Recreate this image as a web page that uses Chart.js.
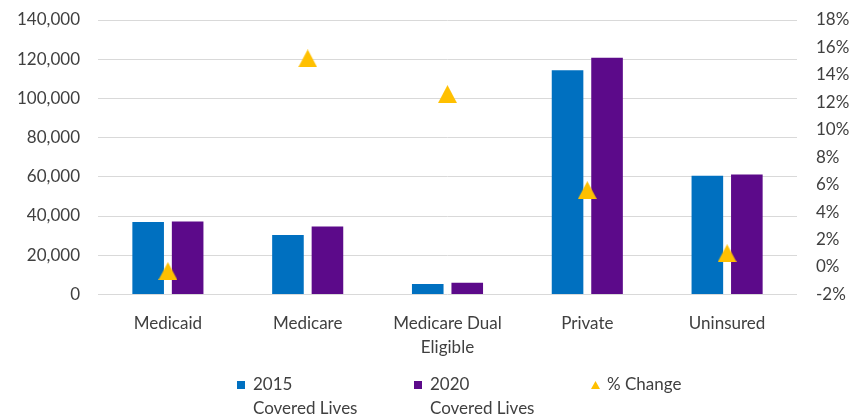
<!DOCTYPE html>
<html>
<head>
<meta charset="utf-8">
<script src="https://cdn.jsdelivr.net/npm/chart.js@4.4.1/dist/chart.umd.min.js"></script>
<style>
  body { margin: 0; background: #fff; font-family: Lato, "Open Sans", sans-serif; }
  #wrap { position: relative; width: 853px; height: 417px; }
  #legend { position: absolute; left: 0; top: 372px; width: 853px; font-size: 17px; color: #404040; }
  .item { position: absolute; top: 0; line-height: 24px; }
  .sw { position: absolute; left: 0; top: 9px; width: 8px; height: 8px; }
  .txt { position: absolute; white-space: nowrap; }
</style>
</head>
<body>
<div id="wrap">
  <canvas id="chart" width="853" height="417"></canvas>
  <div id="legend"></div>
</div>
<script>
const categories = ["Medicaid", "Medicare", ["Medicare Dual", "Eligible"], "Private", "Uninsured"];
const lives2015 = [37000, 30300, 5300, 114300, 60500];
const lives2020 = [37200, 34600, 6000, 120700, 61200];
const pctChange = [-0.3, 15.2, 12.6, 5.6, 1.0];
const seriesNames = ["2015 Covered Lives", "2020 Covered Lives", "% Change"];

const BLUE = "#0070C0";
const PURPLE = "#5C0A8A";
const GOLD = "#FFC000";
const TEXT = "#404040";

// triangle marker centred on its box, like the original
function triangle(w, h) {
  const c = document.createElement("canvas");
  c.width = w;
  c.height = h;
  const g = c.getContext("2d");
  g.fillStyle = GOLD;
  g.beginPath();
  g.moveTo(w / 2, 0);
  g.lineTo(w, h);
  g.lineTo(0, h);
  g.closePath();
  g.fill();
  return c;
}

// fixed axis width, and no extra vertical padding from the tick labels
function fixAxis(width) {
  return function (scale) {
    scale.width = width;
    scale.paddingTop = 0;
    scale.paddingBottom = 0;
  };
}

new Chart(document.getElementById("chart"), {
  data: {
    labels: categories,
    datasets: [
      {
        type: "line",
        label: seriesNames[2],
        data: pctChange,
        yAxisID: "y1",
        showLine: false,
        pointStyle: triangle(19, 18),
        backgroundColor: GOLD,
        order: 0
      },
      {
        type: "bar",
        label: seriesNames[0],
        data: lives2015,
        backgroundColor: BLUE,
        yAxisID: "y",
        categoryPercentage: 0.565,
        barPercentage: 0.8,
        order: 1
      },
      {
        type: "bar",
        label: seriesNames[1],
        data: lives2020,
        backgroundColor: PURPLE,
        yAxisID: "y",
        categoryPercentage: 0.565,
        barPercentage: 0.8,
        order: 1
      }
    ]
  },
  options: {
    responsive: false,
    animation: false,
    layout: { padding: { top: 20, bottom: 49, left: 0, right: 0 } },
    plugins: {
      legend: { display: false },
      tooltip: { enabled: false }
    },
    scales: {
      x: {
        grid: { display: false },
        border: { display: false },
        ticks: { color: TEXT, font: { family: "Lato", size: 17, lineHeight: 1.4 }, padding: 9, maxRotation: 0 }
      },
      y: {
        position: "left",
        min: 0,
        max: 140000,
        afterFit: fixAxis(98),
        grid: { color: "#D9D9D9", lineWidth: 1, drawTicks: false },
        border: { display: false },
        ticks: {
          stepSize: 20000,
          color: TEXT,
          padding: 18,
          font: { family: "Lato", size: 17 },
          callback: function (v) { return v.toLocaleString("en-US"); }
        }
      },
      y1: {
        position: "right",
        min: -2,
        max: 18,
        afterFit: fixAxis(56),
        grid: { display: false, drawTicks: false },
        border: { display: false },
        ticks: {
          stepSize: 2,
          color: TEXT,
          padding: 19,
          font: { family: "Lato", size: 17 },
          callback: function (v) { return v + "%"; }
        }
      }
    }
  }
});

// legend below the chart, labels wrapped onto two lines like the original
const legend = document.getElementById("legend");
const legendItems = [
  { x: 237, color: BLUE, lines: ["2015", "Covered Lives"] },
  { x: 414, color: PURPLE, lines: ["2020", "Covered Lives"] },
  { x: 591, color: null, lines: ["% Change"] }
];
legendItems.forEach(function (it) {
  const div = document.createElement("div");
  div.className = "item";
  div.style.left = it.x + "px";
  if (it.color) {
    const sw = document.createElement("span");
    sw.className = "sw";
    sw.style.background = it.color;
    div.appendChild(sw);
  } else {
    const t = triangle(9, 8);
    t.style.position = "absolute";
    t.style.left = "0px";
    t.style.top = "9px";
    div.appendChild(t);
  }
  const txt = document.createElement("span");
  txt.className = "txt";
  txt.style.left = "16px";
  txt.innerHTML = it.lines.join("<br>");
  div.appendChild(txt);
  legend.appendChild(div);
});
</script>
</body>
</html>
